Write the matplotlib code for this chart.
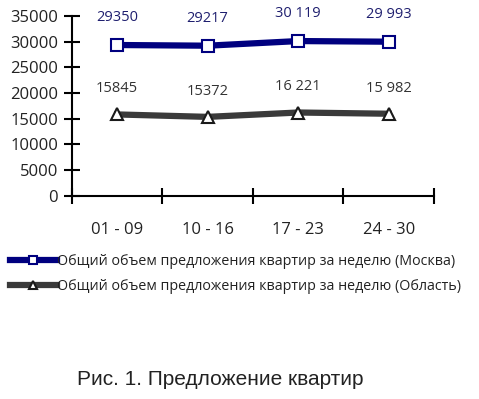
import matplotlib
matplotlib.use("Agg")
import matplotlib.pyplot as plt

plt.rcParams['font.family'] = ['Open Sans', 'DejaVu Sans']

weeks = ['01 - 09', '10 - 16', '17 - 23', '24 - 30']
moscow = [29350, 29217, 30119, 29993]
oblast = [15845, 15372, 16221, 15982]
moscow_labels = ['29350', '29217', '30 119', '29 993']
oblast_labels = ['15845', '15372', '16 221', '15 982']
legend_names = ['Общий объем предложения квартир за неделю (Москва)',
                'Общий объем предложения квартир за неделю (Область)']
caption = 'Рис. 1. Предложение квартир'

fig = plt.figure(figsize=(4.79, 3.99), dpi=100)
ax = fig.add_axes([0.150, 0.509, 0.756, 0.451])

x = range(len(weeks))
l1, = ax.plot(x, moscow, color='#00007f', lw=4.5, marker='s', ms=8,
              mfc='white', mec='#00007f', mew=1.5, label=legend_names[0])
l2, = ax.plot(x, oblast, color='#3a3a3a', lw=4.5, marker='^', ms=9,
              mfc='white', mec='#1a1a1a', mew=1.5, label=legend_names[1])

for i in x:
    ax.text(i, moscow[i] + 5300, moscow_labels[i], ha='center', va='center',
            fontsize=10.5, color='#1f1f6f')
    ax.text(i, oblast[i] + 5000, oblast_labels[i], ha='center', va='center',
            fontsize=10.5, color='#333333')

ax.set_xlim(-0.5, 3.5)
ax.set_ylim(0, 35000)
ax.set_yticks(range(0, 35001, 5000))
ax.set_xticks([-0.5, 0.5, 1.5, 2.5, 3.5])
ax.set_xticklabels([])
ax.set_xticks(list(x), minor=True)
ax.set_xticklabels(weeks, minor=True)
ax.tick_params(axis='x', which='minor', length=0, pad=19, labelsize=12, colors='#222222')
ax.tick_params(axis='x', which='major', direction='inout', length=12, width=1.5)
ax.tick_params(axis='y', direction='inout', length=12, width=1.5, labelsize=12,
               colors='#222222', pad=4)
for s in ['top', 'right']:
    ax.spines[s].set_visible(False)
for s in ['left', 'bottom']:
    ax.spines[s].set_linewidth(1.5)
    ax.spines[s].set_color('black')
ax.tick_params(axis='both', color='black')

fig.legend(handles=[l1, l2], loc='upper left', bbox_to_anchor=(0.021, 0.363),
           frameon=False, fontsize=10.3, handlelength=3.25, handletextpad=0.0,
           labelspacing=0.7, borderaxespad=0, borderpad=0, markerscale=0.7,
           labelcolor='#222222')

fig.text(0.459, 0.048, caption, ha='center', va='center', fontsize=15,
         family=['Liberation Sans', 'DejaVu Sans'], color='#222222')

fig.savefig('out.png', dpi=100)
